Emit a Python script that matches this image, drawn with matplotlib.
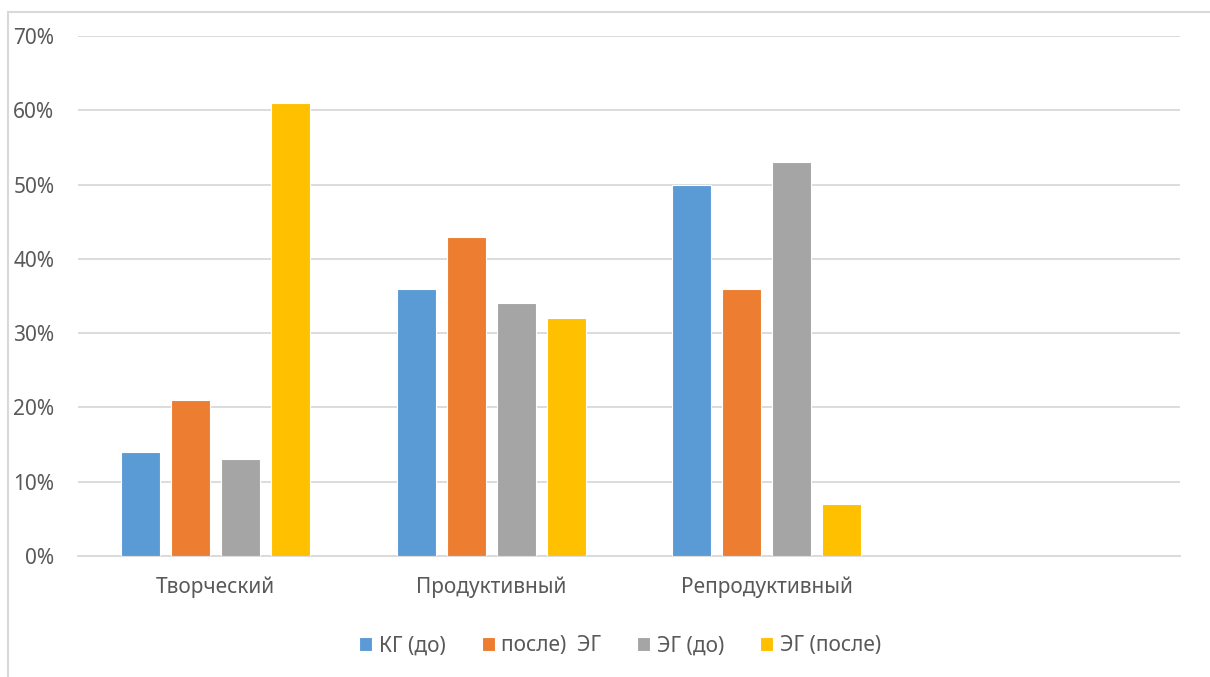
import numpy as np
import matplotlib
matplotlib.use("Agg")
import matplotlib.pyplot as plt
from matplotlib.patches import Rectangle
from matplotlib.ticker import PercentFormatter

# ── Data ─────────────────────────────────────────────────────────────────────
categories = ["Творческий", "Продуктивный", "Репродуктивный", ""]
series_names = ["КГ (до)", "после)  ЭГ", "ЭГ (до)", "ЭГ (после)"]
# values per category, one entry per series
tvorch = [14, 21, 13, 61]
produkt = [36, 43, 34, 32]
reprod = [50, 36, 53, 7]
colors = ["#5B9BD5", "#ED7D31", "#A5A5A5", "#FFC000"]

plt.rcParams["font.family"] = ["Noto Sans", "DejaVu Sans"]
TXT = "#595959"

W, H = 1210, 677
fig = plt.figure(figsize=(W / 100, H / 100), dpi=100)
ax = fig.add_axes([78 / W, 121 / H, (1180 - 78) / W, (556 - 36) / H])

# chart frame (cropped on right / bottom)
fig.patches.append(Rectangle((8 / W, -0.1), 1.2, (H - 12) / H + 0.1,
                             transform=fig.transFigure, fill=False,
                             edgecolor="#d9d9d9", linewidth=1.5))

data = np.array([tvorch, produkt, reprod], dtype=float)
x = np.arange(len(categories))
bw, step = 0.1416, 0.1815
for i, name in enumerate(series_names):
    xs = x[:3] + (i - 1.5) * step
    ax.bar(xs, data[:, i], width=bw, color=colors[i], edgecolor="white",
           linewidth=0.8, label=name, zorder=3)

ax.set_xlim(-0.5, 3.5)
ax.set_ylim(0, 70)
ax.set_yticks(np.arange(0, 71, 10))
ax.yaxis.set_major_formatter(PercentFormatter(decimals=0))
ax.set_xticks(x)
ax.set_xticklabels(categories)
ax.grid(axis="y", color="#d9d9d9", linewidth=1.3, zorder=0)
for s in ["top", "right", "left"]:
    ax.spines[s].set_visible(False)
ax.spines["bottom"].set_color("#d9d9d9")
ax.spines["bottom"].set_linewidth(1.3)
ax.tick_params(axis="both", length=0, colors=TXT, labelsize=15)
ax.tick_params(axis="y", pad=17)
ax.tick_params(axis="x", pad=15)

fig.legend(loc="center", bbox_to_anchor=(620 / W, 1 - 646 / H), ncol=4,
           frameon=False, fontsize=15, labelcolor=TXT, handlelength=0.62,
           handleheight=0.62, handletextpad=0.3, columnspacing=1.75)

fig.savefig("out.png", dpi=100)
